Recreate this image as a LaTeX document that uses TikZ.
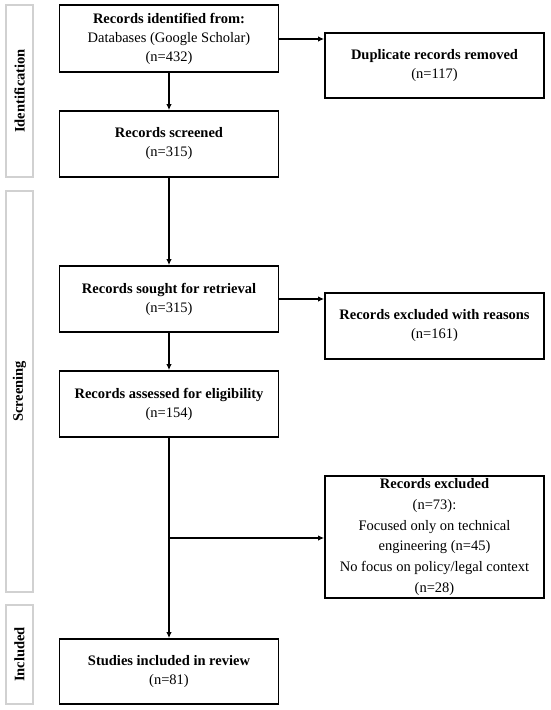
\documentclass[tikz,border=0pt]{standalone}
\usepackage{fontspec}
\setmainfont{Liberation Serif}
\usetikzlibrary{arrows.meta}
\begin{document}
\begin{tikzpicture}[x=1pt,y=-1pt,
  box/.style={draw=black,line width=1.8pt,minimum width=219pt,align=center,inner sep=0pt,
    font=\fontsize{14.5}{19}\selectfont},
  band/.style={draw=black!18,line width=1.3pt,minimum width=27pt,inner sep=0pt},
  bandtext/.style={rotate=90,font=\fontsize{14.5}{15}\selectfont\bfseries},
  arr/.style={line width=1.8pt,-{Latex[length=6pt,width=5.5pt]}}]
\useasboundingbox (0,0) rectangle (550,710);
% bands
\node[band,minimum height=172pt] (bid) at (19.5,91) {};
\node[bandtext] (tid) at (bid.center) {Identification};
\node[band,minimum height=401pt] (bsc) at (19.5,391.5) {};
\node[bandtext] (tsc) at (bsc.center) {Screening};
\node[band,minimum height=99pt] (bin) at (19.5,654.5) {};
\node[bandtext] (tin) at (bin.center) {Included};
% main boxes
\node[box,minimum height=67pt] (b1) at (169,38.5) {\textbf{Records identified from:}\\Databases (Google Scholar)\\(n=432)};
\node[box,minimum height=66pt] (b2) at (169,144) {\textbf{Records screened}\\(n=315)};
\node[box,minimum height=66pt] (b3) at (169,299) {\textbf{Records sought for retrieval}\\(n=315)};
\node[box,minimum height=66pt] (b4) at (169,404) {\textbf{Records assessed for eligibility}\\(n=154)};
\node[box,minimum height=65pt] (b5) at (169,671.5) {\textbf{Studies included in review}\\(n=81)};
% side boxes
\node[box,minimum height=65pt] (d1) at (434.5,65.5) {\textbf{Duplicate records removed}\\(n=117)};
\node[box,minimum height=66pt] (d2) at (434.5,326) {\textbf{Records excluded with reasons}\\(n=161)};
\node[box,minimum height=122pt,font=\fontsize{14.5}{20.7}\selectfont] (d3) at (434.5,537) {\textbf{Records excluded}\\(n=73):\\Focused only on technical\\engineering (n=45)\\No focus on policy/legal context\\(n=28)};
% connectors
\coordinate (j1) at (169,538);
\draw[arr] (b1) -- (b2);
\draw[arr] (b2) -- (b3);
\draw[arr] (b3) -- (b4);
\draw[arr] (b4) -- (b5);
\draw[arr] (b1.east |- 0,39) -- (d1.west |- 0,39);
\draw[arr] (b3.east |- 0,299) -- (d2.west |- 0,299);
\draw[arr] (j1) -- (d3.west |- j1);
\end{tikzpicture}
\end{document}
